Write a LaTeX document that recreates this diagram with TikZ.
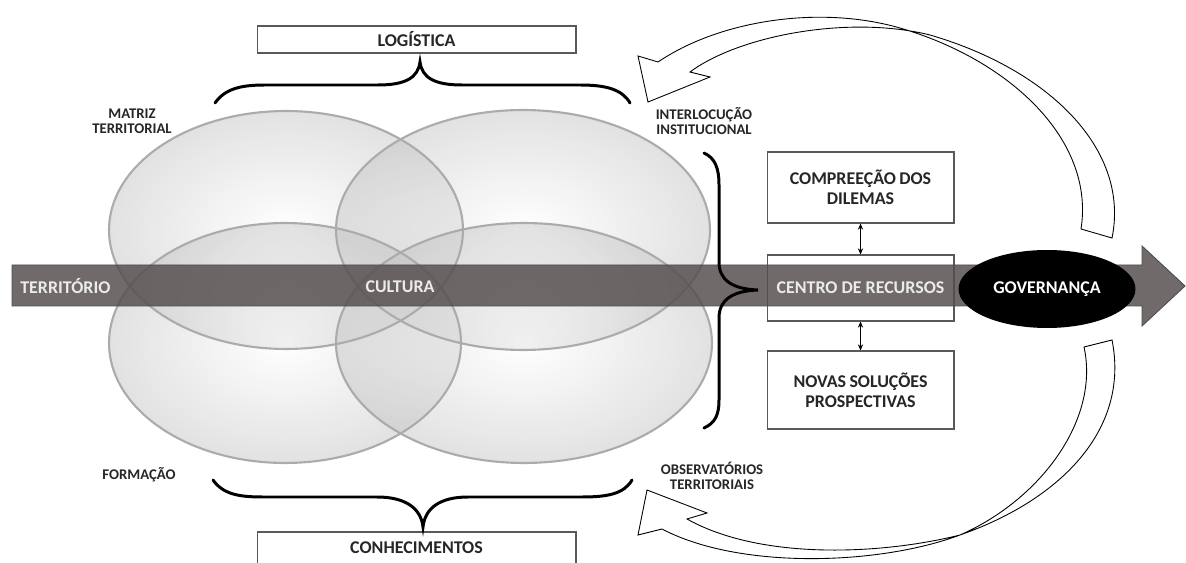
\documentclass[tikz,border=0pt]{standalone}
\usepackage{fontspec}
\setmainfont{Carlito}
\usetikzlibrary{shapes.geometric,arrows.meta}
\definecolor{arrowgray}{RGB}{85,78,78}
\newcommand\tightsp{\spaceskip=1.6pt plus 0.5pt\relax}
\begin{document}
\begin{tikzpicture}[x=0.02cm,y=-0.02cm,
  lbl/.style={font=\bfseries\fontsize{8.4}{8.7}\selectfont, align=center, text=black!85, inner sep=0pt},
  boxlbl/.style={font=\bfseries\fontsize{10.2}{11.3}\selectfont, align=center, text=black!85},
  whitelbl/.style={font=\bfseries\fontsize{10.2}{11.3}\selectfont, text=white, inner sep=0pt},
  ell/.style={ellipse, inner sep=0pt, inner color=white, outer color=black!24, opacity=0.48},
  ellline/.style={ellipse, inner sep=0pt, draw=black!33, line width=1.2pt},
  rbox/.style={draw=black!65, line width=0.6pt, fill=white, inner sep=0pt, text width=3.6cm, align=center},
  brace/.style={line width=1.7pt, line cap=round},
  band/.style={draw=black, line width=0.5pt, fill=white, line join=miter},
  dbl/.style={{Stealth[length=3.5pt,width=3pt]}-{Stealth[length=3.5pt,width=3pt]}, line width=0.7pt}
]
\useasboundingbox (0,0) rectangle (1186,563);

% ellipses (shaded, semi-transparent)
\node[ell, minimum width=7.08cm, minimum height=4.76cm] (e1) at (286,230) {};
\node[ell, minimum width=7.48cm, minimum height=4.80cm] (e2) at (523,230) {};
\node[ell, minimum width=7.04cm, minimum height=4.80cm] (e3) at (285,343) {};
\node[ell, minimum width=7.52cm, minimum height=4.80cm] (e4) at (524,343) {};
\node[ellline, minimum width=7.08cm, minimum height=4.76cm] (o1) at (286,230) {};
\node[ellline, minimum width=7.48cm, minimum height=4.80cm] (o2) at (523,230) {};
\node[ellline, minimum width=7.04cm, minimum height=4.80cm] (o3) at (285,343) {};
\node[ellline, minimum width=7.52cm, minimum height=4.80cm] (o4) at (524,343) {};

% boxes
\node[rbox, minimum width=6.38cm, text width=6.3cm, minimum height=0.54cm, boxlbl] (logi) at (416.5,39.5) {LOGÍSTICA};
\node[rbox, minimum width=6.38cm, text width=6.3cm, minimum height=0.72cm, boxlbl] (conh) at (416.5,550) {\raisebox{2.2pt}{CONHECIMENTOS}};
\node[rbox, boxlbl, minimum width=3.74cm, minimum height=1.42cm] (comp) at (860.5,187.5) {\tightsp COMPREEÇÃO DOS\\DILEMAS};
\node[rbox, minimum width=3.74cm, minimum height=1.32cm] (centro) at (860.5,288) {};
\node[rbox, boxlbl, minimum width=3.74cm, minimum height=1.56cm] (novas) at (860.5,390) {\tightsp NOVAS SOLUÇÕES\\PROSPECTIVAS};

% main arrow
\fill[arrowgray, fill opacity=0.84] (12,265) -- (1142,265) -- (1142,246) -- (1185,286) -- (1142,326) -- (1142,306) -- (12,306) -- cycle;
\draw[black!70, line width=0.5pt] (12,265) -- (1142,265) -- (1142,246) -- (1185,286) -- (1142,326) -- (1142,306) -- (12,306) -- cycle;

% governance
\node[ellipse, fill=black, minimum width=3.54cm, minimum height=1.56cm, inner sep=0pt] (gov) at (1047,289) {};
\node[whitelbl] (govt) at (gov.center) {GOVERNANÇA};

% arrow texts
\node[whitelbl, anchor=west, text=white!92!black] (terr) at (20,286) {TERRITÓRIO};
\node[whitelbl, text=white!92!black] (cult) at (400,287) {CULTURA};
\node[whitelbl, text=white!92!black] (centrot) at (centro.center) {CENTRO DE RECURSOS};

% double arrows
\draw[dbl] (comp.south) -- (centro.north);
\draw[dbl] (centro.south) -- (novas.north);

% braces
\draw[brace] (215,103) .. controls (225,89) and (240,85) .. (265,85) -- (378,85) .. controls (405,85) and (418,78) .. (420,62) .. controls (422,78) and (435,85) .. (462,85) -- (580,85) .. controls (605,85) and (622,89) .. (630,103);
\draw[brace] (213,480) .. controls (223,494) and (238,497) .. (263,497) -- (377,497) .. controls (405,497) and (421,508) .. (423,527) .. controls (425,508) and (440,497) .. (468,497) -- (582,497) .. controls (607,497) and (624,494) .. (632,480);
\draw[brace] (704,153) .. controls (715,158) and (719,168) .. (719,185) -- (719,262) .. controls (719,280) and (732,289) .. (758,290) .. controls (732,291) and (719,300) .. (719,318) -- (719,400) .. controls (719,415) and (715,423) .. (704,428);

% side labels
\node[lbl] (matriz) at (132,121) {MATRIZ\\TERRITORIAL};
\node[lbl] (formacao) at (139,475) {FORMAÇÃO};
\node[lbl] (interl) at (704,121) {INTERLOCUÇÃO\\INSTITUCIONAL};
\node[lbl] (obs) at (712,476) {OBSERVATÓRIOS\\TERRITORIAIS};

% curved block arrows
\draw[band] (1081,229) .. controls (1095,140) and (1010,60) .. (900,28) .. controls (820,5) and (720,20) .. (658,62) -- (638,56) -- (648,102) -- (710,77) -- (690,72) .. controls (740,35) and (850,15) .. (930,35) .. controls (1050,70) and (1130,150) .. (1112,238) -- cycle;
\draw[band] (1084,347) .. controls (1100,420) and (1040,500) .. (960,535) .. controls (880,565) and (740,570) .. (662,529) -- (638,535) -- (647,490) -- (707,513) -- (687,519) .. controls (760,560) and (880,555) .. (960,535) .. controls (1060,500) and (1130,430) .. (1112,340) -- cycle;
\end{tikzpicture}
\end{document}
